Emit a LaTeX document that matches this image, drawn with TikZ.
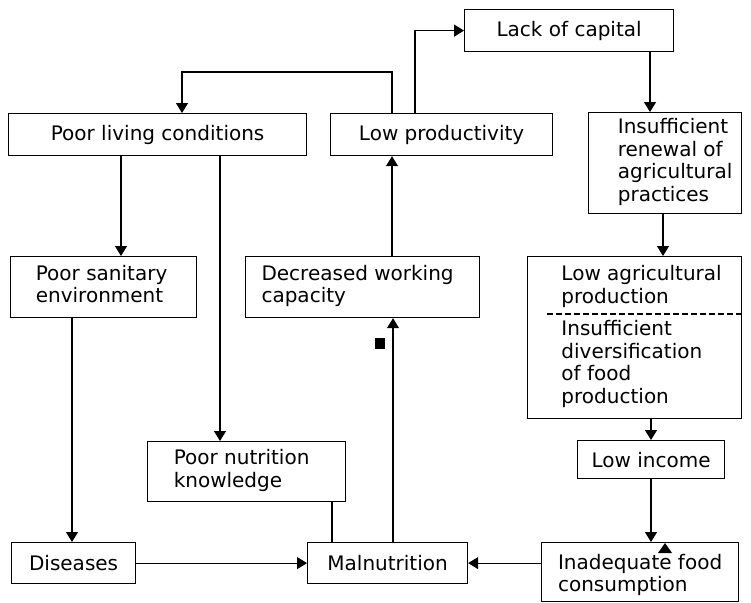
\documentclass[tikz,border=0pt]{standalone}
\usepackage{fontspec}
\setmainfont{DejaVu Sans}
\usetikzlibrary{arrows.meta}
% left-aligned block of lines, nudged sideways inside its box
\newcommand{\linesat}[2]{\hspace*{#1}\begin{tabular}{@{}l@{}}#2\end{tabular}}
\begin{document}
\begin{tikzpicture}[x=1pt,y=-1pt,
  box/.style={draw, line width=1.2pt, inner sep=0pt, align=left, anchor=north west,
              font=\fontsize{20}{22.5}\selectfont},
  link/.style={line width=1.2pt},
  arr/.style={link, -{Triangle[width=12pt,length=10pt]}},
  blot/.style={fill=black}]
\useasboundingbox (0,0) rectangle (751,602);

% boxes (positioned by their upper-left corner)
\node[box, minimum width=209pt, minimum height=42pt] (cap) at (464,9) {Lack of capital};
\node[box, minimum width=298pt, minimum height=42pt] (plc) at (8,113) {Poor living conditions};
\node[box, minimum width=222pt, minimum height=42pt] (lp)  at (330,113) {Low productivity};
\node[box, minimum width=153pt, minimum height=101pt] (isr) at (588,112)
  {\linesat{20pt}{Insufficient\\renewal of\\agricultural\\practices}};
\node[box, minimum width=186pt, minimum height=61pt] (pse) at (10,256)
  {\linesat{-4pt}{Poor sanitary\\environment}};
\node[box, minimum width=234pt, minimum height=61pt] (dwc) at (245,256)
  {\linesat{-10pt}{Decreased working\\capacity}};
\node[box, minimum width=214pt, minimum height=162pt] (lap) at (527,256)
  {\linesat{14pt}{Low agricultural\\production\\[10pt]Insufficient\\diversification\\of food\\production}};
\node[box, minimum width=198pt, minimum height=60pt] (pnk) at (147,441)
  {\linesat{-10pt}{Poor nutrition\\knowledge}};
\node[box, minimum width=147pt, minimum height=38pt] (li)  at (577,440) {Low income};
\node[box, minimum width=124pt, minimum height=41pt] (dis) at (11,542) {Diseases};
\node[box, minimum width=160pt, minimum height=41pt] (mal) at (307,542) {Malnutrition};
\node[box, minimum width=197pt, minimum height=59pt, text height=43pt] (ifc) at (541,542)
  {Inadequate food\\consumption};

% divider inside the agricultural production box
\coordinate (divL) at (547,314);
\coordinate (divR) at (741,314);
\draw[link, dash pattern=on 6pt off 3pt] (divL) -- (divR);

% routing columns and corners
\coordinate (c415) at (415,0);
\coordinate (c392) at (392,0);
\coordinate (turn) at (182,72);
\coordinate (c650) at (650,0);
\coordinate (c663) at (663,0);
\coordinate (c651) at (651,0);
\coordinate (c121) at (121,0);
\coordinate (c220) at (220,0);
\coordinate (c72)  at (72,0);
\coordinate (c332) at (332,0);
\coordinate (c393) at (393,0);

% connectors
\draw[arr] (lp.north -| c415) |- (cap.west);
\draw[arr] (lp.north -| c392) |- (turn) -- (turn |- plc.north);
\draw[arr] (cap.south -| c650) -- (isr.north -| c650);
\draw[arr] (isr.south -| c663) -- (lap.north -| c663);
\draw[arr] (lap.south -| c651) -- (li.north -| c651);
\draw[arr] (li.south -| c651) -- (ifc.north -| c651);
\draw[arr] (plc.south -| c121) -- (pse.north -| c121);
\draw[arr] (plc.south -| c220) -- (pnk.north -| c220);
\draw[arr] (pse.south -| c72) -- (dis.north -| c72);
\draw[arr] (dis.east) -- (mal.west);
\draw[arr] (ifc.west |- mal.east) -- (mal.east);
\draw[link] (pnk.south -| c332) -- (mal.north -| c332);
\draw[arr] (mal.north -| c393) -- (dwc.south -| c393);
\draw[arr] (dwc.north -| c392) -- (lp.south -| c392);

% small marks
\fill[blot] (375,338) rectangle (385,349);
\fill[blot] (658,553) -- (672,553) -- (665,543) -- cycle;
\end{tikzpicture}
\end{document}
